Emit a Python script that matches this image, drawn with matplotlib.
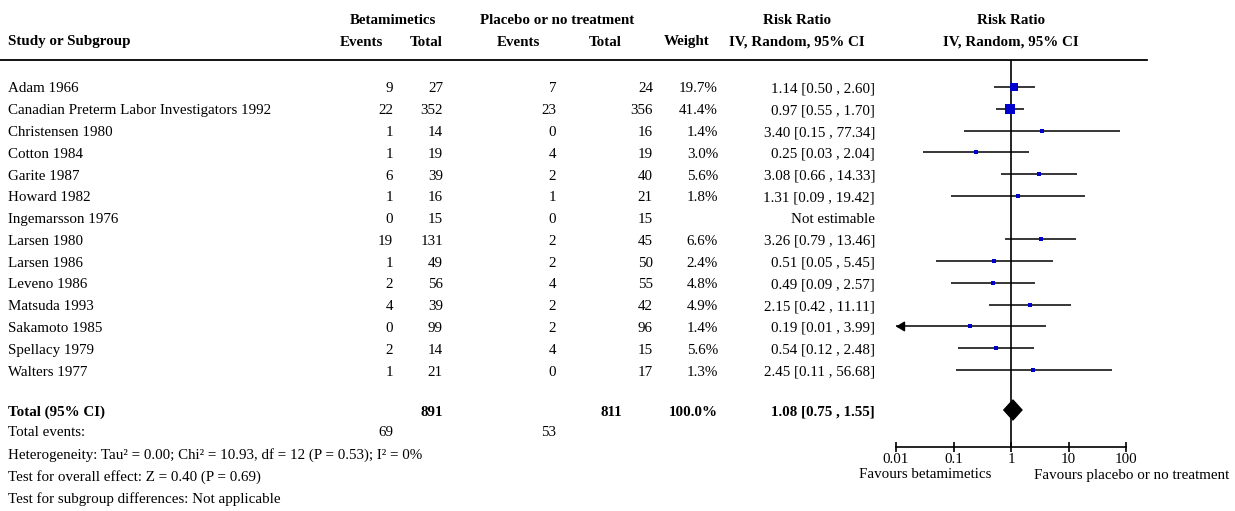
import numpy as np
import matplotlib
matplotlib.use("Agg")
import matplotlib.pyplot as plt
from matplotlib.patches import Polygon

plt.rcParams['font.family'] = ['Liberation Serif', 'DejaVu Serif']

studies = ["Adam 1966", "Canadian Preterm Labor Investigators 1992", "Christensen 1980",
           "Cotton 1984", "Garite 1987", "Howard 1982", "Ingemarsson 1976", "Larsen 1980",
           "Larsen 1986", "Leveno 1986", "Matsuda 1993", "Sakamoto 1985", "Spellacy 1979",
           "Walters 1977"]
beta_events = [9, 22, 1, 1, 6, 1, 0, 19, 1, 2, 4, 0, 2, 1]
beta_total = [27, 352, 14, 19, 39, 16, 15, 131, 49, 56, 39, 99, 14, 21]
plac_events = [7, 23, 0, 4, 2, 1, 0, 2, 2, 4, 2, 2, 4, 0]
plac_total = [24, 356, 16, 19, 40, 21, 15, 45, 50, 55, 42, 96, 15, 17]
weight = [19.7, 41.4, 1.4, 3.0, 5.6, 1.8, None, 6.6, 2.4, 4.8, 4.9, 1.4, 5.6, 1.3]
rr = [1.14, 0.97, 3.40, 0.25, 3.08, 1.31, None, 3.26, 0.51, 0.49, 2.15, 0.19, 0.54, 2.45]
rr_lo = [0.50, 0.55, 0.15, 0.03, 0.66, 0.09, None, 0.79, 0.05, 0.09, 0.42, 0.01, 0.12, 0.11]
rr_hi = [2.60, 1.70, 77.34, 2.04, 14.33, 19.42, None, 13.46, 5.45, 2.57, 11.11, 3.99, 2.48, 56.68]

total_rr, total_lo, total_hi = 1.08, 0.75, 1.55
total_beta, total_plac = 891, 811
events_beta, events_plac = 69, 53
ticks = [0.01, 0.1, 1, 10, 100]
tick_labels = ["0.01", "0.1", "1", "10", "100"]

W, H = 1235, 511
fig = plt.figure(figsize=(W / 100, H / 100), dpi=100)
ax = fig.add_axes([0, 0, 1, 1])
ax.set_xlim(0, W)
ax.set_ylim(H, 0)
ax.axis('off')

fs = 10.8
blue = '#0000cc'

def put(x, y, s, ha='right', bold=False):
    # +2 px: va='center' sits a little high for this font
    ax.text(x, y + 2, s, ha=ha, va='center', fontsize=fs,
            fontweight='bold' if bold else 'normal')

# headers
put(393, 19, "Betamimetics", 'center', True)
put(557, 19, "Placebo or no treatment", 'center', True)
put(797, 19, "Risk Ratio", 'center', True)
put(1011, 19, "Risk Ratio", 'center', True)
put(8, 40, "Study or Subgroup", 'left', True)
put(383, 40, "Events", 'right', True)
put(443, 40, "Total", 'right', True)
put(540, 40, "Events", 'right', True)
put(622, 40, "Total", 'right', True)
put(710, 40, "Weight", 'right', True)
put(797, 40, "IV, Random, 95% CI", 'center', True)
put(1011, 40, "IV, Random, 95% CI", 'center', True)
ax.plot([0, 1147], [60, 60], color='black', lw=1.3)

row_y = 87 + 21.77 * np.arange(len(studies))
for i, name in enumerate(studies):
    y = row_y[i]
    put(8, y, name, 'left')
    put(393, y, str(beta_events[i]))
    put(443, y, str(beta_total[i]))
    put(556, y, str(plac_events[i]))
    put(653, y, str(plac_total[i]))
    if weight[i] is None:
        put(875, y, "Not estimable")
    else:
        put(718, y, f"{weight[i]:.1f}%")
        put(875, y, f"{rr[i]:.2f} [{rr_lo[i]:.2f} , {rr_hi[i]:.2f}]")

ty = 410
put(8, ty, "Total (95% CI)", 'left', True)
put(443, ty, str(total_beta), 'right', True)
put(622, ty, str(total_plac), 'right', True)
put(718, ty, "100.0%", 'right', True)
put(875, ty, f"{total_rr:.2f} [{total_lo:.2f} , {total_hi:.2f}]", 'right', True)
put(8, 431, "Total events:", 'left')
put(393, 431, str(events_beta))
put(556, 431, str(events_plac))
put(8, 453, "Heterogeneity: Tau² = 0.00; Chi² = 10.93, df = 12 (P = 0.53); I² = 0%", 'left')
put(8, 475, "Test for overall effect: Z = 0.40 (P = 0.69)", 'left')
put(8, 497, "Test for subgroup differences: Not applicable", 'left')

# forest panel: x in log RR, y in figure pixels
x0, x1, y_top, y_axis = 896, 1126, 60, 447
fx = fig.add_axes([x0 / W, 1 - y_axis / H, (x1 - x0) / W, (y_axis - y_top) / H])
fx.set_xscale('log')
fx.set_xlim(0.01, 100)
fx.set_ylim(y_axis, y_top)
fx.patch.set_alpha(0)
for s in ['top', 'right', 'left']:
    fx.spines[s].set_visible(False)
fx.spines['bottom'].set_linewidth(1.2)
fx.set_yticks([])
fx.set_xticks(ticks)
fx.set_xticklabels(tick_labels, fontsize=fs)
fx.minorticks_off()
fx.tick_params(axis='x', direction='inout', length=7, width=1.2, pad=1)
fx.axvline(1, color='black', lw=1.2)

for i in range(len(studies)):
    if rr[i] is None:
        continue
    y = row_y[i]
    lo = max(rr_lo[i], 0.01)
    fx.plot([lo, rr_hi[i]], [y, y], color='black', lw=1.1, solid_capstyle='butt', clip_on=False)
    side = max(4, 1.6 * np.sqrt(weight[i]))
    fx.plot(rr[i], y, marker='s', color=blue, markersize=side * 0.72, markeredgewidth=0, clip_on=False)
    if rr_lo[i] <= 0.01:
        fx.annotate("", xy=(0.01, y), xytext=(0.013, y),
                    arrowprops=dict(arrowstyle='-|>,head_length=0.5,head_width=0.3',
                                    color='black', lw=1.1, shrinkA=0, shrinkB=0),
                    annotation_clip=False)

dy = 10
dia = Polygon([(total_lo, ty), (total_rr, ty - dy), (total_hi, ty), (total_rr, ty + dy)],
              closed=True, facecolor='black', edgecolor='black', clip_on=False)
fx.add_patch(dia)

put(925, 473, "Favours betamimetics", 'center')
put(1132, 473, "Favours placebo or no treatment", 'center')

fig.savefig("out.png", dpi=100)
